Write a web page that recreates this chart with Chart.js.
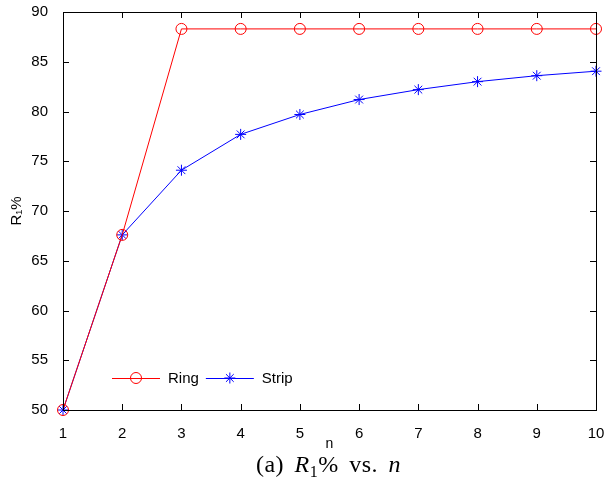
<!DOCTYPE html>
<html>
<head>
<meta charset="utf-8">
<script src="https://cdn.jsdelivr.net/npm/chart.js@4.4.1/dist/chart.umd.min.js"></script>
<style>
  html, body { margin: 0; padding: 0; background: #fff; }
  #wrap { position: relative; width: 605px; height: 488px; }
  #chart-box { position: absolute; left: 0; top: 0; width: 605px; height: 453px; }
  #caption {
    position: absolute; left: 52px; top: 451px; width: 553px; text-align: center;
    font-family: "Liberation Serif", "DejaVu Serif", serif; font-size: 24px; color: #000;
    word-spacing: 4px; letter-spacing: 0.5px;
  }
  #caption sub { font-size: 16px; vertical-align: -5px; line-height: 0; }
</style>
</head>
<body>
<div id="wrap">
  <div id="chart-box"><canvas id="chart"></canvas></div>
  <div id="caption">(a) <i>R</i><sub>1</sub>% vs. <i>n</i></div>
</div>
<script>
const nValues = [1, 2, 3, 4, 5, 6, 7, 8, 9, 10];
const ringValues = [50, 67.6, 88.3, 88.3, 88.3, 88.3, 88.3, 88.3, 88.3, 88.3];
const stripValues = [50, 67.6, 74.1, 77.7, 79.7, 81.2, 82.2, 83.0, 83.6, 84.05];
const xTicks = [1, 2, 3, 4, 5, 6, 7, 8, 9, 10];
const yTicks = [50, 55, 60, 65, 70, 75, 80, 85, 90];

const tickFont = { family: '"Liberation Sans", Arial, sans-serif', size: 15 };

// box round the plot with ticks pointing inward, plus the legend inside
const boxPlugin = {
  id: 'box',
  afterDraw(chart) {
    const ctx = chart.ctx;
    const a = chart.chartArea;
    const xs = chart.scales.x, ys = chart.scales.y;
    ctx.save();
    ctx.strokeStyle = '#000';
    ctx.lineWidth = 1;
    ctx.strokeRect(a.left + 0.5, a.top + 0.5, a.right - a.left, a.bottom - a.top);
    ctx.beginPath();
    xTicks.forEach(v => {
      const px = Math.round(xs.getPixelForValue(v)) + 0.5;
      ctx.moveTo(px, a.bottom); ctx.lineTo(px, a.bottom - 6);
      ctx.moveTo(px, a.top); ctx.lineTo(px, a.top + 6);
    });
    yTicks.forEach(v => {
      const py = Math.round(ys.getPixelForValue(v)) + 0.5;
      ctx.moveTo(a.left, py); ctx.lineTo(a.left + 6, py);
      ctx.moveTo(a.right, py); ctx.lineTo(a.right - 6, py);
    });
    ctx.stroke();

    // legend
    const ly = a.bottom - 32;
    let lx = a.left + 49;
    ctx.font = '15px "Liberation Sans", Arial, sans-serif';
    ctx.textBaseline = 'middle';
    chart.data.datasets.forEach(ds => {
      ctx.strokeStyle = ds.borderColor;
      ctx.lineWidth = 1;
      ctx.beginPath();
      ctx.moveTo(lx, ly + 0.5); ctx.lineTo(lx + 48, ly + 0.5);
      ctx.stroke();
      Chart.helpers.drawPoint(ctx, {
        pointStyle: ds.pointStyle, radius: ds.pointRadius, borderWidth: 1
      }, lx + 24, ly);
      ctx.fillStyle = '#000';
      ctx.fillText(ds.label, lx + 56, ly + 1);
      lx += 56 + ctx.measureText(ds.label).width + 7;
    });
    ctx.restore();
  }
};

const ctx = document.getElementById('chart').getContext('2d');
new Chart(ctx, {
  type: 'line',
  data: {
    datasets: [
      {
        label: 'Ring',
        data: nValues.map((n, i) => ({ x: n, y: ringValues[i] })),
        borderColor: '#ff0000',
        backgroundColor: 'rgba(0,0,0,0)',
        pointBorderColor: '#ff0000',
        pointBackgroundColor: 'rgba(0,0,0,0)',
        pointStyle: 'circle',
        pointRadius: 5.5,
        borderWidth: 1,
        pointBorderWidth: 1,
        tension: 0,
      },
      {
        label: 'Strip',
        data: nValues.map((n, i) => ({ x: n, y: stripValues[i] })),
        borderColor: '#0000ff',
        backgroundColor: 'rgba(0,0,0,0)',
        pointBorderColor: '#0000ff',
        pointStyle: 'star',
        pointRadius: 5.5,
        borderWidth: 1,
        pointBorderWidth: 1,
        tension: 0,
      },
    ],
  },
  options: {
    responsive: true,
    maintainAspectRatio: false,
    animation: false,
    clip: false,
    layout: { padding: { left: 0, right: 9, top: 12, bottom: 0 } },
    plugins: { legend: { display: false }, tooltip: { enabled: false } },
    scales: {
      x: {
        type: 'linear',
        min: 1,
        max: 10,
        afterBuildTicks: s => { s.ticks = xTicks.map(v => ({ value: v })); },
        afterFit: s => { s.height = 43; s.paddingLeft = 0; s.paddingRight = 0; },
        grid: { display: false },
        border: { display: false },
        ticks: { color: '#000', font: tickFont, padding: 7, maxRotation: 0 },
        title: { display: true, text: 'n', color: '#000', font: { family: tickFont.family, size: 14 }, padding: { top: 0, bottom: 0 } },
      },
      y: {
        min: 50,
        max: 90,
        afterBuildTicks: s => { s.ticks = yTicks.map(v => ({ value: v })); },
        afterFit: s => { s.width = 63; s.paddingTop = 0; s.paddingBottom = 0; },
        grid: { display: false },
        border: { display: false },
        ticks: { color: '#000', font: tickFont, padding: 7 },
        title: { display: true, text: 'R₁%', color: '#000', font: { family: tickFont.family, size: 15 }, padding: { top: 8, bottom: 0 } },
      },
    },
  },
  plugins: [boxPlugin],
});
</script>
</body>
</html>
